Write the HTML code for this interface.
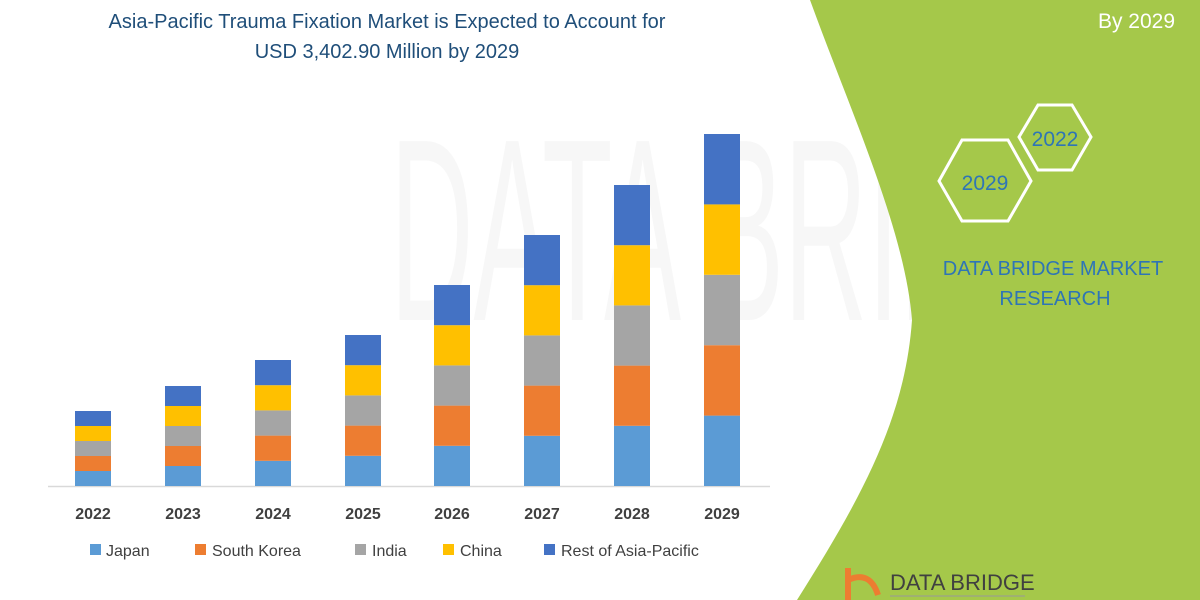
<!DOCTYPE html>
<html><head><meta charset="utf-8"><style>
body{margin:0;width:1200px;height:600px;overflow:hidden;background:#fff;font-family:"Liberation Sans",sans-serif;position:relative}
</style></head><body>
<svg width="1200" height="600" style="position:absolute;left:0;top:0">
<text x="390" y="320" font-size="260" fill="#f7f7f7" font-family="Liberation Sans" textLength="760" lengthAdjust="spacingAndGlyphs">DATA BRIDGE</text>
<path d="M810,0 C850,110 905,230 912,320 C905,420 860,500 797,600 L1200,600 L1200,0 Z" fill="#a5c84a"/>
<text x="1175" y="28" fill="#fff" font-size="21" text-anchor="end">By 2029</text>
<polygon points="1038,105 1072,105 1091,137 1072,170 1038,170 1019,137" fill="none" stroke="#fff" stroke-width="3"/>
<text x="1055" y="146" fill="#2e75b6" font-size="21" text-anchor="middle">2022</text>
<polygon points="962,140 1008,140 1031,181 1008,221 962,221 939,181" fill="none" stroke="#fff" stroke-width="3"/>
<text x="985" y="190" fill="#2e75b6" font-size="21" text-anchor="middle">2029</text>
<text x="1053" y="275" fill="#2e75b6" font-size="20" text-anchor="middle">DATA BRIDGE MARKET</text>
<text x="1055" y="305" fill="#2e75b6" font-size="20" text-anchor="middle">RESEARCH</text>
<text x="387" y="28" fill="#1f4e79" font-size="20" text-anchor="middle">Asia-Pacific Trauma Fixation Market is Expected to Account for</text>
<text x="387" y="58" fill="#1f4e79" font-size="20" text-anchor="middle">USD 3,402.90 Million by 2029</text>
<line x1="48" y1="486.5" x2="770" y2="486.5" stroke="#d9d9d9" stroke-width="1.5"/>
<g id="bars"></g>
<g font-size="16" font-weight="bold" fill="#404040" text-anchor="middle">
<text x="93" y="519">2022</text><text x="183" y="519">2023</text><text x="273" y="519">2024</text><text x="363" y="519">2025</text><text x="452" y="519">2026</text><text x="542" y="519">2027</text><text x="632" y="519">2028</text><text x="722" y="519">2029</text>
</g>
<g font-size="16" fill="#404040">
<rect x="90" y="544" width="11" height="11" fill="#5b9bd5"/><text x="106" y="556">Japan</text>
<rect x="195" y="544" width="11" height="11" fill="#ed7d31"/><text x="212" y="556">South Korea</text>
<rect x="355" y="544" width="11" height="11" fill="#a5a5a5"/><text x="372" y="556">India</text>
<rect x="443" y="544" width="11" height="11" fill="#ffc000"/><text x="460" y="556">China</text>
<rect x="544" y="544" width="11" height="11" fill="#4472c4"/><text x="561" y="556">Rest of Asia-Pacific</text>
</g>
<path d="M848,568 L848,600 M848,580 Q870,570 878,595" stroke="#ed7d31" stroke-width="6" fill="none"/>
<text x="890" y="590" fill="#404040" font-size="22">DATA BRIDGE</text>
<line x1="890" y1="596" x2="1025" y2="596" stroke="#999" stroke-width="1"/>
</svg>
<script>
var g=document.getElementById('bars');var xs=[93,183,273,363,452,542,632,722],tops=[411,386,360,335,285,235,185,134];
var cols=['#5b9bd5','#ed7d31','#a5a5a5','#ffc000','#4472c4'];var s='';
for(var i=0;i<8;i++){var h=(486-tops[i])/5;for(var j=0;j<5;j++){s+='<rect x="'+(xs[i]-18)+'" y="'+(486-h*(j+1))+'" width="36" height="'+h+'" fill="'+cols[j]+'"/>';}}
g.innerHTML=s;
</script>
</body></html>
